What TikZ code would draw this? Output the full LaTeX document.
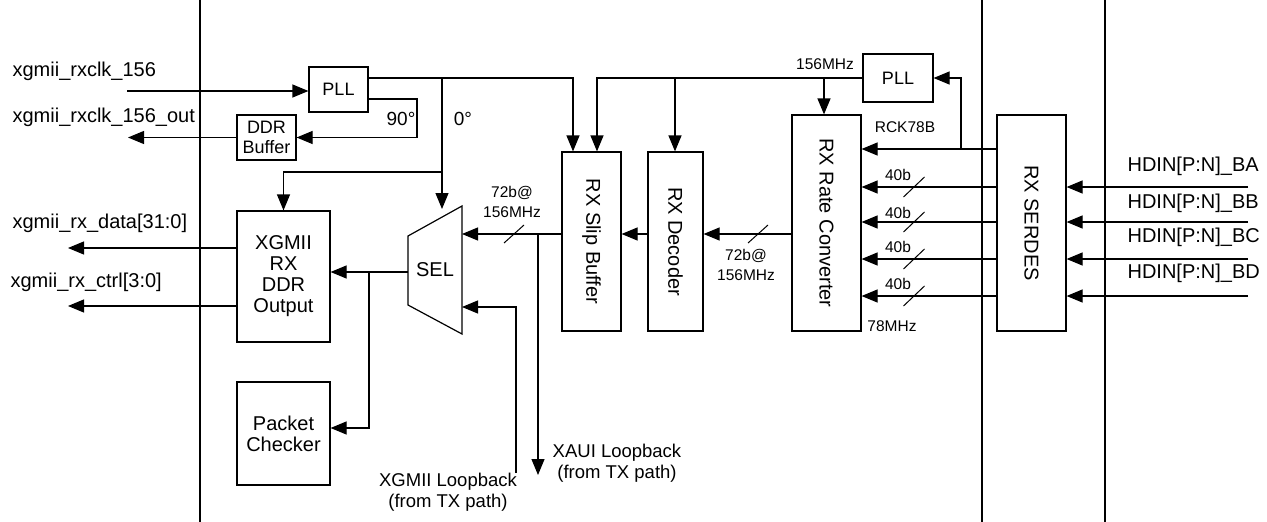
\documentclass[tikz,border=0pt]{standalone}
\usepackage{fontspec}
\setmainfont{Liberation Sans}
\usetikzlibrary{arrows.meta,calc}
\begin{document}
\begin{tikzpicture}[x=1pt,y=-1pt,
  line width=1.2pt,
  box/.style={draw,inner sep=0pt,align=center,font=\fontsize{20}{21}\selectfont},
  arr/.style={-{Triangle[length=16pt,width=13pt]}},
  lbl/.style={inner sep=0pt,align=center,font=\fontsize{20}{21}\selectfont},
  sm/.style={inner sep=0pt,align=center,font=\fontsize{15.5}{20}\selectfont},
  lb/.style={inner sep=0pt,align=center,font=\fontsize{18.5}{21}\selectfont},
  slash/.style={line width=1pt}]
\useasboundingbox (0,0) rectangle (1267,522);

% frame lines
\draw (200,0) -- (200,522);
\draw (982,0) -- (982,522);
\draw (1105,0) -- (1105,522);

% boxes
\node[box,minimum width=59pt,minimum height=45pt,font=\fontsize{18}{20}\selectfont] (pllL) at (338.5,89.5) {PLL};
\node[box,minimum width=59pt,minimum height=45pt,font=\fontsize{18}{20}\selectfont] (ddr) at (266.5,137.5) {DDR\\Buffer};
\node[box,minimum width=93pt,minimum height=131pt] (xgmii) at (283.5,276.5) {XGMII\\RX\\DDR\\Output};
\node[box,minimum width=93pt,minimum height=103pt] (pc) at (283.5,433.5) {Packet\\Checker};
\node[box,minimum width=59pt,minimum height=179pt] (slip) at (591.5,241.5) {};
\node[lbl,rotate=-90] (slipT) at (slip) {RX Slip Buffer};
\node[box,minimum width=55pt,minimum height=179pt] (dec) at (675.5,241.5) {};
\node[lbl,rotate=-90] (decT) at (dec) {RX Decoder};
\node[box,minimum width=69pt,minimum height=216pt] (rate) at (826.5,223) {};
\node[lbl,rotate=-90] (rateT) at (rate) {RX Rate Converter};
\node[box,minimum width=70pt,minimum height=48pt,font=\fontsize{18}{20}\selectfont] (pllR) at (898,78) {PLL};
\node[box,minimum width=69pt,minimum height=216pt] (serdes) at (1031.5,223) {};
\node[lbl,rotate=-90] (serdesT) at (serdes) {RX SERDES};

% SEL mux
\draw (408,236) -- (462,206) -- (462,334) -- (408,305) -- cycle;
\node[lbl] (sel) at (435,270) {SEL};
\coordinate (selA) at (462,234);
\coordinate (selB) at (462,307);
\coordinate (selO) at (408,272);
\coordinate (selT) at (442,209);

% external labels
\node[lbl,anchor=west] (l1) at (12,71) {xgmii\_rxclk\_156};
\node[lbl,anchor=west] (l2) at (12,117) {xgmii\_rxclk\_156\_out};
\node[lbl,anchor=west] (l3) at (12,223) {xgmii\_rx\_data[31:0]};
\node[lbl,anchor=west] (l4) at (10,282) {xgmii\_rx\_ctrl[3:0]};
\node[lbl,anchor=west] (h1) at (1127,166) {HDIN[P:N]\_BA};
\node[lbl,anchor=west] (h2) at (1127,203) {HDIN[P:N]\_BB};
\node[lbl,anchor=west] (h3) at (1127,237) {HDIN[P:N]\_BC};
\node[lbl,anchor=west] (h4) at (1127,273) {HDIN[P:N]\_BD};
\node[lbl,font=\fontsize{19}{21}\selectfont] (d90) at (401,119) {90°};
\node[lbl,font=\fontsize{19}{21}\selectfont] (d0) at (463,119) {0°};
\node[sm] (m1) at (512,202) {72b@\\156MHz};
\node[sm] (m2) at (746,264.5) {72b@\\156MHz};
\node[sm] (m3) at (825,64) {156MHz};
\node[sm] (m4) at (905,127) {RCK78B};
\node[sm] (m5) at (892,326) {78MHz};
\node[lb] (xaui) at (617,463.5) {XAUI Loopback\\(from TX path)};
\node[lb] (xgl) at (448,492) {XGMII Loopback\\(from TX path)};

% connectors left side
\coordinate (clkin) at (127,91);
\coordinate (clkout) at (128,137.5);
\draw[arr] (clkin) -- (clkin -| pllL.west);
\draw[arr] (pllL.east |- 0,78) -- (573,78) -- (slip.north -| 573,0);
\draw[arr] (442,78) -- (selT);
\draw[arr] (442,172) -- (283.5,172) -- (xgmii.north);
\draw[arr] (pllL.east |- 0,99) -- (417,99) -- (417,137.5) -- (ddr.east);
\draw[arr] (ddr.west) -- (clkout);
\draw[arr] (xgmii.west |- 0,248) -- (68,248);
\draw[arr] (xgmii.west |- 0,306) -- (68,306);
\draw[arr] (selO) -- (selO -| xgmii.east);
\draw[arr] (369,272) -- (369,428) -- (pc.east |- 0,428);

% middle data path
\draw[arr] (slip.west |- 0,234) -- (selA);
\draw[slash] (514,234) +(-10,9) -- +(10,-9);
\draw[arr] (538,234) -- (538,475);
\draw[arr] (516,473) -- (516,307) -- (selB);
\draw[arr] (dec.west |- 0,234) -- (slip.east |- 0,234);
\draw[arr] (rate.west |- 0,234) -- (dec.east |- 0,234);
\draw[slash] (758,234) +(-10,9) -- +(10,-9);

% right PLL clock
\draw[arr] (pllR.west) -- (597,78) -- (slip.north -| 597,0);
\draw[arr] (675,78) -- (dec.north -| 675,0);
\draw[arr] (824,78) -- (rate.north -| 824,0);
\draw[arr] (serdes.west |- 0,149) -- (rate.east |- 0,149);
\draw[arr] (961,149) -- (961,78) -- (pllR.east);

% 40b lanes and HDIN inputs
\foreach \yy/\ly in {187/175,222/213,259/247,296/284}{
  \draw[arr] (serdes.west |- 0,\yy) -- (rate.east |- 0,\yy);
  \draw[slash] (914,\yy) +(-10.5,10) -- +(10.5,-10);
  \node[sm] at (898,\ly) {40b};
  \draw[arr] (1248,\yy) -- (serdes.east |- 0,\yy);
}
\end{tikzpicture}
\end{document}
